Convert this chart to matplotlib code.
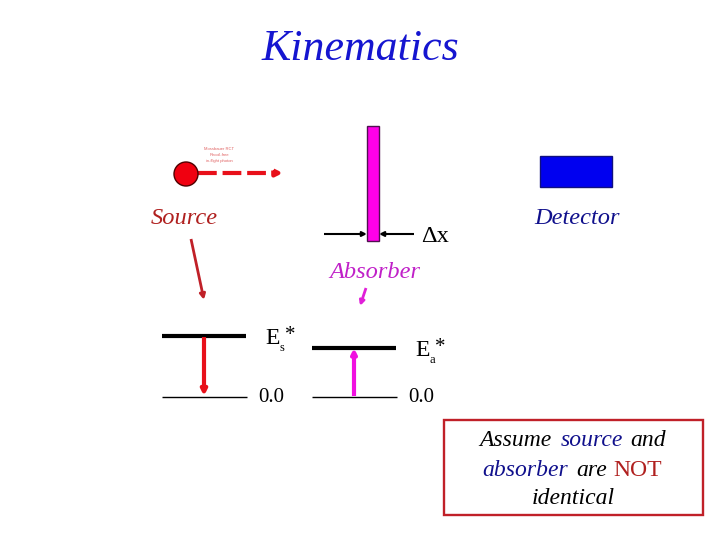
import matplotlib
matplotlib.use("Agg")
import matplotlib.pyplot as plt
from matplotlib.patches import Circle, Rectangle

plt.rcParams["font.family"] = ["Liberation Serif", "DejaVu Serif"]

RED = "#e8101a"
DARK_RED = "#b0201f"
MAGENTA = "#f010e0"
BLUE = "#0000e0"
NAVY = "#10108c"

# level lines: x0, x1, y, width
levels = [
    (162, 246, 336, 3.0),
    (162, 247, 396.5, 1.0),
    (312, 396, 348, 3.0),
    (312, 397, 396.5, 1.0),
]

# text pieces: x, y, string, size, colour, style, ha
labels = [
    (360, 49, "Kinematics", 31.6, "#1515d0", "italic", "center"),
    (184, 219, "Source", 17.6, DARK_RED, "italic", "center"),
    (577, 219, "Detector", 17.6, NAVY, "italic", "center"),
    (375, 273, "Absorber", 17.6, "#c020c8", "italic", "center"),
    (435, 237, "\u0394x", 17.6, "black", "normal", "center"),
    (271, 397, "0.0", 15, "black", "normal", "center"),
    (421, 397, "0.0", 15, "black", "normal", "center"),
    (479, 441, "Assume ", 17, "black", "italic", "left"),
    (561, 441, "source", 17, NAVY, "italic", "left"),
    (630, 441, "and", 17, "black", "italic", "left"),
    (482, 470, "absorber", 17, NAVY, "italic", "left"),
    (576, 470, "are", 17, "black", "italic", "left"),
    (613, 470, "NOT", 17, DARK_RED, "normal", "left"),
    (573, 498, "identical", 17, "black", "italic", "center"),
]

tiny_lines = ["Mossbauer RCT", "Recoil-free", "in-flight photon"]

fig = plt.figure(figsize=(7.2, 5.4), dpi=100)
ax = fig.add_axes([0, 0, 1, 1])
ax.set_xlim(0, 720)
ax.set_ylim(540, 0)
ax.axis("off")


def arrow(x0, y0, x1, y1, color, lw, ms=8, ls="-"):
    ax.annotate("", xy=(x1, y1), xytext=(x0, y0),
                arrowprops=dict(arrowstyle="-|>", color=color, lw=lw, ls=ls,
                                mutation_scale=ms, shrinkA=0, shrinkB=0,
                                capstyle="butt"))


# source and its emission
arrow(198, 173, 283, 173, RED, 3, ms=9, ls=(0, (4.5, 1.4)))
ax.add_patch(Circle((186, 174), 12, fc="#f00010", ec="#500000", lw=1, zorder=3))
for i, s in enumerate(tiny_lines):
    ax.text(219, 149 + i * 6.2, s, fontsize=3, color="#e06060",
            family="Liberation Sans", ha="center", va="center")

# absorber and detector
ax.add_patch(Rectangle((367, 126), 12, 115, fc="#ff00e8", ec="#501050", lw=1))
ax.add_patch(Rectangle((540, 156), 72, 31, fc="#0000f0", ec="#101080", lw=1))

# delta-x arrows
arrow(324, 234, 367, 234, "black", 1.5, ms=7)
arrow(414, 234, 379, 234, "black", 1.5, ms=7)

# pointers from the labels
arrow(191, 239, 204, 300, "#c02028", 2, ms=8)
arrow(366, 288, 360, 306, "#e020d8", 2, ms=7)

# level schemes
for x0, x1, y, w in levels:
    ax.plot([x0, x1], [y, y], color="black", lw=w, solid_capstyle="butt")
arrow(204, 337, 204, 396, RED, 3, ms=8)
arrow(354, 396, 354, 348, MAGENTA, 3, ms=7)

for x, y, s, size, c, style, ha in labels:
    ax.text(x, y, s, fontsize=size, color=c, style=style, ha=ha, va="center")

# energy labels with sub/superscripts
ax.text(265, 339, "E", fontsize=17, va="center")
ax.text(280, 348, "s", fontsize=9, va="center")
ax.text(285, 335, "*", fontsize=15, va="center")
ax.text(415, 351, "E", fontsize=17, va="center")
ax.text(430, 360, "a", fontsize=9, va="center")
ax.text(435, 347, "*", fontsize=15, va="center")

# note box
ax.add_patch(Rectangle((444, 420), 259, 95, fc="white", ec="#c02028", lw=1.7,
                       zorder=0))

fig.savefig("out.png", dpi=100)
